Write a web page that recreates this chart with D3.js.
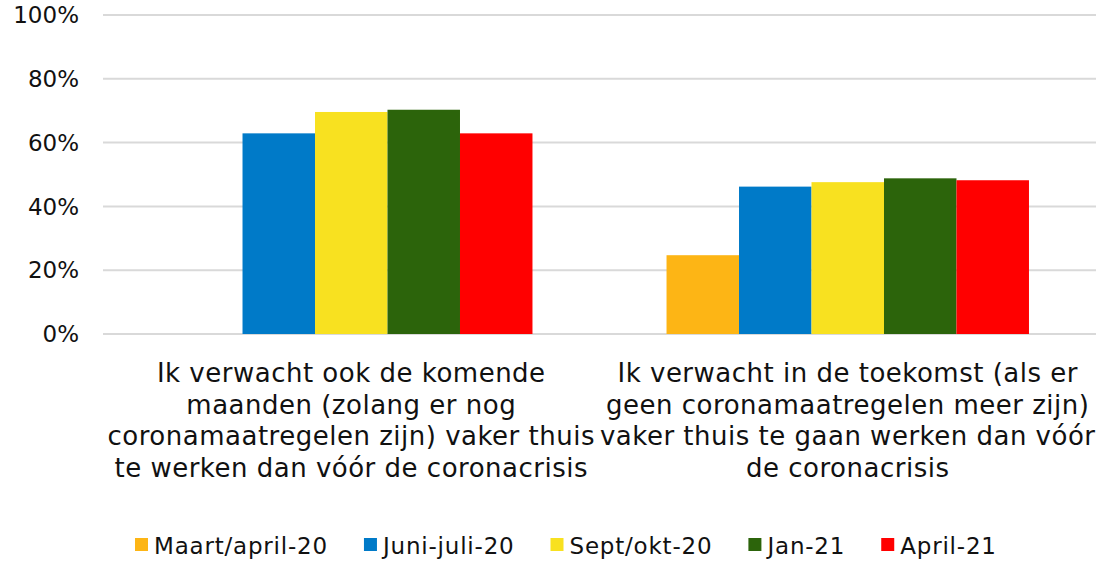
<!DOCTYPE html>
<html>
<head>
<meta charset="utf-8">
<script src="https://cdn.jsdelivr.net/npm/d3@7"></script>
<style>
  body { margin: 0; background: #fff; }
  text { font-family: "DejaVu Sans", Verdana, sans-serif; fill: #111; }
</style>
</head>
<body>
<div id="chart-area"></div>
<script>
// categories, each one split in lines like the original
var categories = ["c1", "c2"];
var categoryLines = [
	["Ik verwacht ook de komende", "maanden (zolang er nog", "coronamaatregelen zijn) vaker thuis", "te werken dan vóór de coronacrisis"],
	["Ik verwacht in de toekomst (als er", "geen coronamaatregelen meer zijn)", "vaker thuis te gaan werken dan vóór", "de coronacrisis"]
];
var seriesNames = ["Maart/april-20", "Juni-juli-20", "Sept/okt-20", "Jan-21", "April-21"];
var seriesColors = ["#FDB515", "#007AC8", "#F8E120", "#2C640B", "#FF0000"];
// percentages, per series: [category 1, category 2]
var maartApril20 = [null, 24.7];
var juniJuli20 = [62.9, 46.2];
var septOkt20 = [69.6, 47.6];
var jan21 = [70.3, 48.8];
var april21 = [62.9, 48.2];
var yTicks = [0, 20, 40, 60, 80, 100];

var seriesValues = [maartApril20, juniJuli20, septOkt20, jan21, april21];

var width = 1102;
var height = 561;

var svg = d3.select("#chart-area").append("svg")
	.attr("width", width)
	.attr("height", height);

var x = d3.scaleBand().domain(categories).range([103, 1096])
	.paddingInner(0.27).paddingOuter(0.135);
var xs = d3.scaleBand().domain(seriesNames).range([0, x.bandwidth()]);
var y = d3.scaleLinear().domain([0, 100]).range([334, 15]);

// gridlines
svg.append("g").selectAll("line")
	.data(yTicks)
	.enter().append("line")
	.attr("x1", 103).attr("x2", 1096)
	.attr("y1", (d) => y(d)).attr("y2", (d) => y(d))
	.attr("stroke", "#d9d9d9")
	.attr("stroke-width", 2);

// y labels
svg.append("g").selectAll("text")
	.data(yTicks)
	.enter().append("text")
	.attr("x", 79)
	.attr("y", (d) => y(d))
	.attr("dy", "0.36em")
	.attr("text-anchor", "end")
	.attr("font-size", "23px")
	.text((d) => d + "%");

// bars
var rows = [];
seriesNames.forEach((s, i) => {
	categories.forEach((c, j) => {
		if (seriesValues[i][j] != null) {
			rows.push({cat: c, series: s, color: seriesColors[i], value: seriesValues[i][j]});
		}
	});
});

svg.append("g").selectAll("rect")
	.data(rows)
	.enter().append("rect")
	.attr("x", (d) => x(d.cat) + xs(d.series))
	.attr("width", xs.bandwidth())
	.attr("y", (d) => y(d.value))
	.attr("height", (d) => y(0) - y(d.value))
	.attr("fill", (d) => d.color);

// category labels
var catLabels = svg.append("g").selectAll("text")
	.data(categories)
	.enter().append("text")
	.attr("text-anchor", "middle")
	.attr("font-size", "26px")
	.attr("letter-spacing", "0.5px");

catLabels.each(function(c, j) {
	var t = d3.select(this);
	categoryLines[j].forEach((line, k) => {
		t.append("tspan")
			.attr("x", x(c) + x.bandwidth() / 2)
			.attr("y", 382 + k * 31.6)
			.text(line);
	});
});

// legend
var legend = svg.append("g");
var lx = 135;
seriesNames.forEach((s, i) => {
	legend.append("rect")
		.attr("x", lx).attr("y", 538)
		.attr("width", 13).attr("height", 13)
		.attr("fill", seriesColors[i]);
	var txt = legend.append("text")
		.attr("x", lx + 19)
		.attr("y", 554)
		.attr("font-size", "23px")
		.attr("letter-spacing", "0.8px")
		.text(s);
	lx = lx + 19 + txt.node().getComputedTextLength() + 36;
});
</script>
</body>
</html>
